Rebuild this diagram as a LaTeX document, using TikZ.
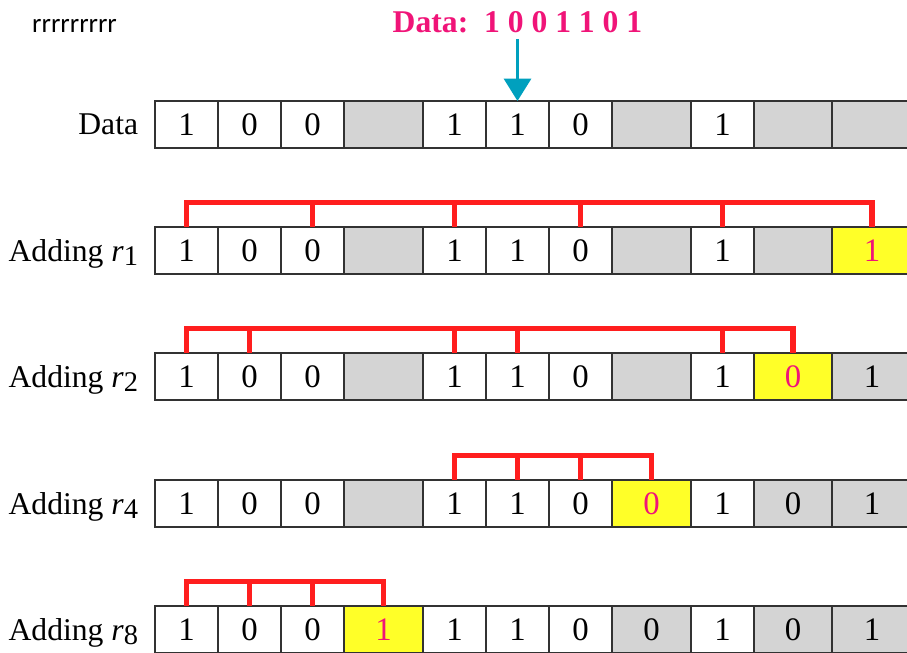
\documentclass[tikz,border=0pt]{standalone}
\usepackage{fontspec}
\setmainfont{Liberation Serif}
\newfontfamily\notefont{Carlito}
\usetikzlibrary{positioning,arrows.meta}

\definecolor{datapink}{RGB}{240,20,120}
\definecolor{bracketred}{RGB}{255,30,30}
\definecolor{arrowteal}{RGB}{0,160,190}
\definecolor{checkyellow}{RGB}{255,255,40}
\definecolor{paritygray}{RGB}{212,212,212}
\definecolor{cellline}{RGB}{50,50,50}

% left edges of the eleven cells (and right edge of the last one)
\def\cellx{{155,218,281,344,423,486,549,612,691,754,832,912}}

% #1 row name, #2 top of the row, #3 list of style/bit
\newcommand{\bitrow}[3]{%
  \foreach \fl/\val [count=\i] in {#3} {
    \pgfmathsetmacro\xl{\cellx[\i-1]}
    \pgfmathsetmacro\xr{\cellx[\i]}
    \node[cell,\fl,minimum width={(\xr-\xl)*0.03cm}] (#1-\i) at ({(\xl+\xr)/2},#2+23.5) {\val};
  }}
\newcommand{\radd}[1]{Adding \textit{r}\raisebox{-0.25ex}{\scalebox{0.9}{#1}}}

\begin{document}
\begin{tikzpicture}[x=0.03cm,y=-0.03cm,
    cell/.style={draw=cellline,line width=1.2pt,inner sep=0pt,outer sep=0pt,
      minimum height=1.41cm,text depth=0pt,font=\fontsize{28}{31}\selectfont},
    databit/.style={fill=white},
    paritybit/.style={fill=paritygray},
    newbit/.style={fill=checkyellow,text=datapink},
    rowlabel/.style={inner sep=0pt,text depth=0pt,font=\fontsize{27}{30}\selectfont},
    bracket/.style={draw=bracketred,line width=4.8pt,line join=miter}]
  \useasboundingbox (0,0) rectangle (907,653);
  \clip (0,0) rectangle (907,653);

  \node[anchor=base west,inner sep=0pt,font=\notefont\fontsize{23}{26}\selectfont] (note) at (32,33) {rrrrrrrrr};
  \node[inner sep=0pt,text=datapink,font=\bfseries\fontsize{27}{30}\selectfont] (title) at (517.5,22)
    {Data:\ \ 1 0 0 1 1 0 1};

  % the rows
  \bitrow{d}{101}{databit/1,databit/0,databit/0,paritybit/{},databit/1,databit/1,databit/0,paritybit/{},databit/1,paritybit/{},paritybit/{}}
  \bitrow{p1}{227}{databit/1,databit/0,databit/0,paritybit/{},databit/1,databit/1,databit/0,paritybit/{},databit/1,paritybit/{},newbit/1}
  \bitrow{p2}{353}{databit/1,databit/0,databit/0,paritybit/{},databit/1,databit/1,databit/0,paritybit/{},databit/1,newbit/0,paritybit/1}
  \bitrow{p4}{480}{databit/1,databit/0,databit/0,paritybit/{},databit/1,databit/1,databit/0,newbit/0,databit/1,paritybit/0,paritybit/1}
  \bitrow{p8}{606}{databit/1,databit/0,databit/0,newbit/1,databit/1,databit/1,databit/0,paritybit/0,databit/1,paritybit/0,paritybit/1}

  \node[rowlabel,left=0.5cm of d-1] (ld) {Data};
  \node[rowlabel,left=0.5cm of p1-1] (l1) {\radd{1}};
  \node[rowlabel,left=0.5cm of p2-1] (l2) {\radd{2}};
  \node[rowlabel,left=0.5cm of p4-1] (l4) {\radd{4}};
  \node[rowlabel,left=0.5cm of p8-1] (l8) {\radd{8}};

  \draw[arrowteal,line width=2.5pt,-{Triangle[width=23pt,length=19pt]}] (title.south) ++(0,6) coordinate (top) -- (d-6.north);

  % bits checked by each parity bit
  \draw[bracket] (p1-1.north) -- ++(0,-24.5) -| (p1-11.north);
  \foreach \k in {3,5,7,9} \draw[bracket] (p1-\k.north) -- ++(0,-24.5);
  \draw[bracket] (p2-1.north) -- ++(0,-24.5) -| (p2-10.north);
  \foreach \k in {2,5,6,9} \draw[bracket] (p2-\k.north) -- ++(0,-24.5);
  \draw[bracket] (p4-5.north) -- ++(0,-24.5) -| (p4-8.north);
  \foreach \k in {6,7} \draw[bracket] (p4-\k.north) -- ++(0,-24.5);
  \draw[bracket] (p8-1.north) -- ++(0,-24.5) -| (p8-4.north);
  \foreach \k in {2,3} \draw[bracket] (p8-\k.north) -- ++(0,-24.5);
\end{tikzpicture}
\end{document}
